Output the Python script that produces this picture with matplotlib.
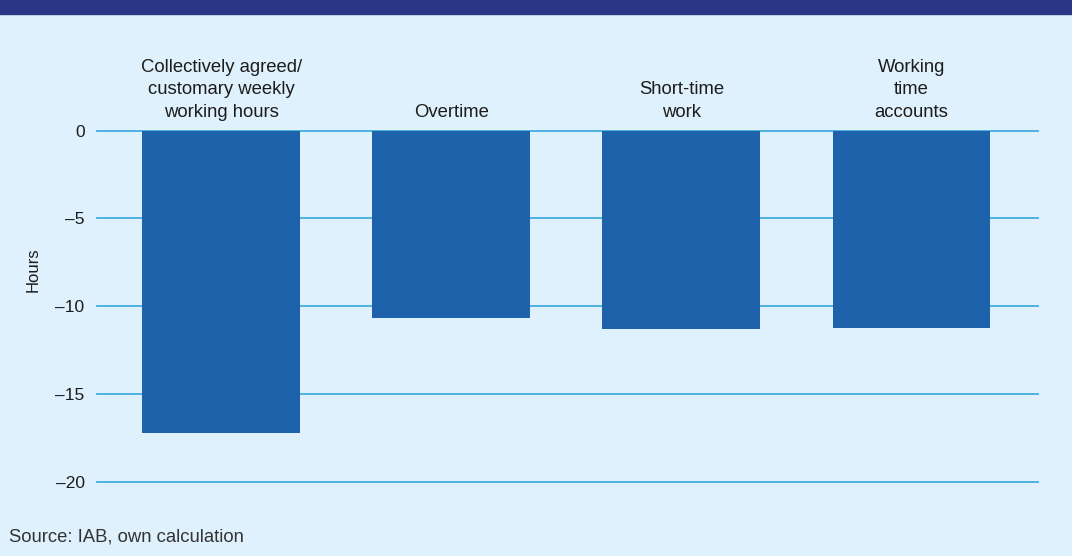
import matplotlib.pyplot as plt

# Veränderung der Arbeitszeit nach Komponente (Stunden)
categories = ["Collectively agreed/\ncustomary weekly\nworking hours",
              "Overtime",
              "Short-time\nwork",
              "Working\ntime\naccounts"]
hours = [-17.2, -10.7, -11.3, -11.25]
yticks = [0, -5, -10, -15, -20]
ytick_labels = ["0", "\u20135", "\u201310", "\u201315", "\u201320"]

bg = "#dff1fc"
bar_col = "#1d62aa"
grid_col = "#42ade0"
txt_col = "#1c1c1c"

plt.rcParams['font.family'] = ['Liberation Sans', 'DejaVu Sans']

fig = plt.figure(figsize=(10.72, 5.56), dpi=100, facecolor=bg)
ax = fig.add_axes([97 / 1072, 74.3 / 556, 941 / 1072, 351.2 / 556])
ax.set_facecolor(bg)

# Kopfleiste
fig.patches.append(plt.Rectangle((0, 1 - 13.5 / 556), 1, 13.5 / 556,
                                 transform=fig.transFigure, color="#2a3585",
                                 zorder=0))

for t in yticks:
    ax.axhline(t, color=grid_col, lw=1.3, zorder=1, clip_on=False)

x = range(len(categories))
ax.bar(x, hours, width=0.686, color=bar_col, zorder=2)

for i, lab in enumerate(categories):
    ax.annotate(lab, (i, 0), xytext=(0, 10), textcoords="offset points",
                ha="center", va="baseline", fontsize=13.3, color=txt_col,
                linespacing=1.42, annotation_clip=False)

ax.set_xlim(-0.54, 3.55)
ax.set_ylim(-20, 0)
ax.set_yticks(yticks)
ax.set_yticklabels(ytick_labels)
ax.tick_params(axis="y", length=0, pad=9, labelsize=12.5, labelcolor=txt_col)
ax.set_xticks([])
for s in ax.spines.values():
    s.set_visible(False)

ax.set_ylabel("Hours", fontsize=12, color=txt_col)
ax.yaxis.set_label_coords((41 - 97) / 941, 0.603)

fig.text(9 / 1072, 1 - 542 / 556, "Source: IAB, own calculation",
         fontsize=13.3, color="#333333", va="baseline")

fig.savefig("out.png", dpi=100, facecolor=bg)
